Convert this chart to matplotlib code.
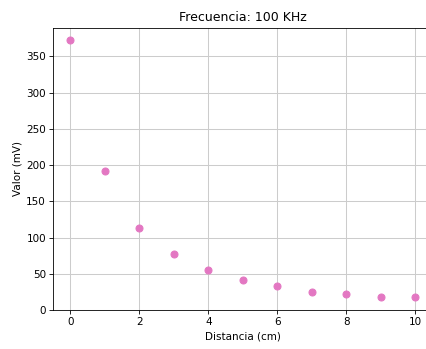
import numpy as np
import matplotlib
matplotlib.use('Agg')
import matplotlib.pyplot as plt

# Medidas a 100 KHz
distancia = [0, 1, 2, 3, 4, 5, 6, 7, 8, 9, 10]
valor = [372, 191.5, 113.5, 77.5, 55, 41.5, 33, 25.5, 22.5, 18.5, 17.5]

dpi = 75
fig = plt.figure(figsize=(426 / dpi, 349 / dpi), dpi=dpi)
# right edge of the axes falls just outside the image, as in the reference
ax = fig.add_axes([0.125, 0.1117, 0.890, 0.8089])

ax.scatter(distancia, valor, color='#e377c2', s=45, zorder=3)
ax.set_xlim(-0.5, 10.5)
ax.set_ylim(0, 389.5)
ax.set_xticks(np.arange(0, 11, 2))
ax.grid(True, color='#cccccc', linewidth=1)
ax.set_axisbelow(True)

ax.set_title('Frecuencia: 100 KHz')
ax.set_xlabel('Distancia (cm)')
ax.set_ylabel('Valor (mV)')

fig.savefig('out.png', dpi=dpi)
